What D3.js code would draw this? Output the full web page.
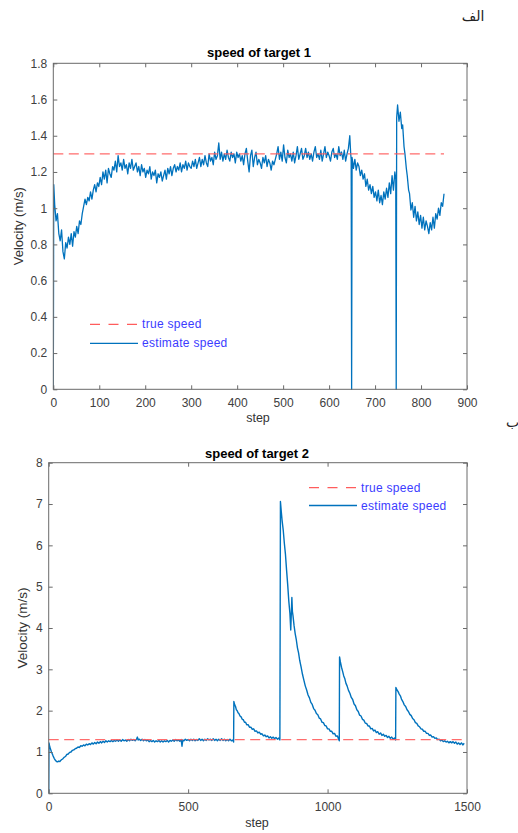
<!DOCTYPE html>
<html>
<head>
<meta charset="utf-8">
<script src="https://cdn.jsdelivr.net/npm/d3@7"></script>
<style>
  html, body { margin: 0; padding: 0; background: #fff; }
  svg { display: block; }
</style>
</head>
<body>
<svg id="fig" width="518" height="833"></svg>
<script>
// Reference (true) speed of both targets, m/s
const trueSpeed = 1.3;
const trueSpan1 = [0, 850];
const trueSpan2 = [0, 1490];

// Estimated speed of target 1: [step, m/s]
const target1 = [
  [0,0],[1,1.13],[3,1.02],[6,0.93],[9,0.97],[12,0.86],[15,0.82],[18,0.88],[21,0.76],[24,0.72],
  [27,0.81],[30,0.78],[33,0.84],[36,0.80],[39,0.86],[42,0.79],[45,0.87],[48,0.84],[51,0.90],[54,0.86],
  [57,0.93],[60,0.91],[63,0.97],[66,1.01],[69,1.05],[72,1.02],[75,1.06],[78,1.04],[81,1.09],[84,1.05],
  [87,1.10],[90,1.13],[93,1.09],[96,1.14],[99,1.12],[102,1.17],[105,1.13],[108,1.20],[111,1.16],[114,1.21],
  [117,1.14],[120,1.22],[123,1.19],[126,1.17],[129,1.23],[132,1.21],[135,1.26],[138,1.20],[141,1.29],[144,1.23],
  [147,1.25],[150,1.21],[153,1.27],[156,1.22],[159,1.24],[162,1.19],[165,1.25],[168,1.22],[171,1.27],[174,1.21],
  [177,1.23],[180,1.25],[183,1.20],[186,1.23],[189,1.18],[192,1.24],[195,1.20],[198,1.22],[201,1.17],[204,1.21],
  [207,1.19],[210,1.23],[213,1.16],[216,1.20],[219,1.18],[222,1.21],[225,1.14],[228,1.19],[231,1.17],[234,1.20],
  [237,1.15],[240,1.18],[243,1.21],[246,1.16],[249,1.22],[252,1.19],[255,1.23],[258,1.18],[261,1.22],[264,1.24],
  [267,1.20],[270,1.23],[273,1.21],[276,1.25],[279,1.20],[282,1.24],[285,1.22],[288,1.26],[291,1.21],[294,1.25],
  [297,1.23],[300,1.22],[303,1.26],[306,1.23],[309,1.27],[312,1.22],[315,1.25],[318,1.28],[321,1.23],[324,1.27],
  [327,1.24],[330,1.29],[333,1.25],[336,1.23],[339,1.30],[342,1.26],[345,1.28],[348,1.24],[351,1.31],[354,1.27],
  [357,1.29],[360,1.36],[363,1.27],[366,1.31],[369,1.26],[372,1.30],[375,1.27],[378,1.32],[381,1.28],[384,1.26],
  [387,1.31],[390,1.28],[393,1.30],[396,1.25],[399,1.31],[402,1.28],[405,1.30],[408,1.26],[411,1.29],[414,1.24],
  [417,1.30],[420,1.33],[423,1.26],[426,1.20],[429,1.29],[432,1.32],[435,1.23],[438,1.28],[441,1.31],[444,1.24],
  [447,1.27],[450,1.25],[453,1.22],[456,1.28],[459,1.25],[462,1.29],[465,1.23],[468,1.27],[471,1.25],[474,1.21],
  [477,1.26],[480,1.24],[483,1.27],[486,1.30],[489,1.34],[492,1.27],[495,1.31],[498,1.26],[501,1.35],[504,1.28],
  [507,1.25],[510,1.32],[513,1.28],[516,1.30],[519,1.26],[522,1.31],[525,1.25],[528,1.29],[531,1.34],[534,1.27],
  [537,1.30],[540,1.33],[543,1.27],[546,1.29],[549,1.33],[552,1.28],[555,1.31],[558,1.27],[561,1.30],[564,1.26],
  [567,1.31],[570,1.34],[573,1.28],[576,1.30],[579,1.27],[582,1.32],[585,1.26],[588,1.30],[591,1.34],[594,1.28],
  [597,1.31],[600,1.29],[603,1.26],[606,1.31],[609,1.33],[612,1.28],[615,1.30],[618,1.27],[621,1.34],[624,1.29],
  [627,1.31],[630,1.27],[633,1.32],[636,1.26],[639,1.30],[642,1.33],[645,1.40],[647,1.30],[648,1.27],[649,0],
  [650,1.28],[653,1.22],[656,1.27],[659,1.21],[662,1.25],[665,1.23],[668,1.18],[671,1.21],[674,1.16],[677,1.19],
  [680,1.12],[683,1.16],[686,1.10],[689,1.13],[692,1.08],[695,1.12],[698,1.06],[701,1.09],[704,1.04],[707,1.10],
  [710,1.03],[713,1.07],[716,1.02],[719,1.09],[722,1.05],[725,1.11],[728,1.06],[731,1.14],[734,1.08],[737,1.18],
  [740,1.10],[743,1.20],[745,1.16],[746,0],[747,1.50],[749,1.57],[752,1.48],[755,1.53],[758,1.44],[760,1.46],
  [763,1.34],[765,1.30],[768,1.22],[770,1.18],[773,1.10],[775,1.08],[778,0.99],[781,1.03],[784,0.95],[787,1.01],
  [790,0.93],[793,0.98],[796,0.91],[799,0.96],[802,0.89],[805,0.95],[808,0.88],[811,0.93],[814,0.90],[817,0.86],
  [820,0.92],[823,0.88],[826,0.95],[829,0.89],[832,0.97],[835,0.94],[838,1.00],[841,0.96],[844,1.03],[847,1.01],
  [850,1.08]
];

// Estimated speed of target 2: [step, m/s]
const target2 = [
  [0,0],[1,1.22],[4,1.12],[7,1.06],[10,1.00],[13,0.95],[16,0.90],[20,0.84],[24,0.80],[28,0.77],
  [32,0.76],[36,0.78],[40,0.77],[45,0.81],[50,0.83],[55,0.87],[60,0.89],[65,0.94],[70,0.95],[75,0.99],
  [80,1.00],[85,1.04],[90,1.05],[95,1.08],[100,1.09],[105,1.12],[110,1.11],[115,1.15],[120,1.14],[125,1.17],
  [130,1.15],[135,1.19],[140,1.17],[145,1.20],[150,1.18],[155,1.22],[160,1.19],[165,1.23],[170,1.20],[175,1.24],
  [180,1.21],[185,1.25],[190,1.22],[195,1.26],[200,1.23],[205,1.27],[210,1.24],[215,1.27],[220,1.25],[225,1.28],
  [230,1.25],[235,1.28],[240,1.26],[245,1.29],[250,1.26],[255,1.29],[260,1.26],[265,1.30],[270,1.27],[275,1.29],
  [280,1.26],[285,1.30],[290,1.27],[295,1.31],[300,1.28],[305,1.30],[310,1.27],[315,1.31],[318,1.36],[321,1.29],
  [325,1.31],[330,1.28],[335,1.31],[340,1.27],[345,1.30],[350,1.27],[355,1.29],[360,1.25],[365,1.28],[370,1.25],
  [375,1.28],[380,1.24],[385,1.27],[390,1.25],[395,1.28],[400,1.24],[405,1.27],[410,1.24],[415,1.27],[420,1.25],
  [425,1.28],[430,1.24],[435,1.28],[440,1.26],[445,1.29],[450,1.26],[455,1.30],[460,1.27],[465,1.29],[470,1.26],
  [475,1.30],[478,1.14],[481,1.29],[485,1.27],[490,1.31],[495,1.28],[500,1.30],[505,1.27],[510,1.31],[515,1.28],
  [520,1.31],[525,1.27],[530,1.30],[535,1.28],[540,1.32],[545,1.28],[550,1.31],[555,1.27],[560,1.31],[565,1.28],
  [570,1.32],[575,1.29],[580,1.31],[585,1.28],[590,1.32],[595,1.28],[600,1.31],[605,1.27],[610,1.31],[615,1.28],
  [620,1.32],[625,1.28],[630,1.31],[635,1.27],[640,1.30],[645,1.27],[650,1.31],[655,1.27],[660,1.29],[663,1.24],
  [664,2.22],[667,2.14],[670,2.10],[673,2.02],[676,2.00],[679,1.95],[682,1.93],[686,1.87],[690,1.85],[694,1.79],
  [698,1.78],[702,1.72],[706,1.72],[710,1.66],[715,1.66],[720,1.60],[725,1.60],[730,1.55],[735,1.56],[740,1.50],
  [745,1.51],[750,1.46],[755,1.48],[760,1.43],[765,1.44],[770,1.39],[775,1.41],[780,1.37],[785,1.39],[790,1.34],
  [795,1.37],[800,1.33],[805,1.36],[810,1.32],[815,1.35],[820,1.31],[825,1.34],[829,1.29],[831,7.06],[834,6.82],
  [837,6.60],[841,6.37],[845,6.05],[849,5.78],[853,5.40],[857,5.05],[861,4.65],[865,4.35],[868,3.95],[870,4.35],
  [872,4.74],[874,4.40],[876,4.30],[880,4.05],[884,3.86],[888,3.71],[892,3.52],[896,3.40],[900,3.22],[905,3.06],
  [910,2.88],[915,2.74],[920,2.60],[925,2.50],[930,2.38],[935,2.31],[940,2.20],[945,2.15],[950,2.05],[955,2.01],
  [960,1.93],[965,1.90],[970,1.82],[975,1.80],[980,1.72],[985,1.71],[990,1.64],[995,1.63],[1000,1.56],[1005,1.56],
  [1010,1.50],[1015,1.50],[1020,1.44],[1025,1.45],[1030,1.38],[1035,1.39],[1039,1.32],[1042,1.27],[1043,3.30],[1046,3.18],
  [1050,3.05],[1054,2.95],[1058,2.84],[1062,2.77],[1066,2.66],[1070,2.60],[1075,2.49],[1080,2.42],[1085,2.32],[1090,2.27],
  [1095,2.16],[1100,2.12],[1105,2.02],[1110,1.98],[1115,1.89],[1120,1.87],[1125,1.79],[1130,1.77],[1135,1.70],[1140,1.69],
  [1145,1.63],[1150,1.63],[1155,1.56],[1160,1.57],[1165,1.51],[1170,1.53],[1175,1.47],[1180,1.49],[1185,1.43],[1190,1.46],
  [1195,1.40],[1200,1.43],[1205,1.38],[1210,1.40],[1215,1.35],[1220,1.38],[1225,1.33],[1230,1.36],[1235,1.31],[1240,1.34],
  [1244,1.29],[1245,2.56],[1249,2.50],[1253,2.46],[1257,2.40],[1261,2.36],[1265,2.28],[1270,2.22],[1275,2.14],[1280,2.10],
  [1285,2.02],[1290,1.98],[1295,1.91],[1300,1.88],[1305,1.81],[1310,1.78],[1315,1.71],[1320,1.69],[1325,1.63],[1330,1.61],
  [1335,1.56],[1340,1.55],[1345,1.50],[1350,1.50],[1355,1.45],[1360,1.45],[1365,1.40],[1370,1.41],[1375,1.36],[1380,1.37],
  [1385,1.33],[1390,1.34],[1395,1.30],[1400,1.31],[1405,1.27],[1410,1.29],[1415,1.25],[1420,1.27],[1425,1.24],[1430,1.26],
  [1435,1.22],[1440,1.25],[1445,1.22],[1450,1.25],[1455,1.21],[1460,1.24],[1465,1.19],[1470,1.22],[1475,1.18],[1480,1.22],
  [1485,1.17],[1490,1.21]
];

// Axis ticks
const xTicks1 = [0, 100, 200, 300, 400, 500, 600, 700, 800, 900];
const yTicks1 = [0, 0.2, 0.4, 0.6, 0.8, 1, 1.2, 1.4, 1.6, 1.8];
const xTicks2 = [0, 500, 1000, 1500];
const yTicks2 = [0, 1, 2, 3, 4, 5, 6, 7, 8];

// Text
const titles = ["speed of target 1", "speed of target 2"];
const panelMarks = ["الف", "ب"];
const xLabel = "step";
const yLabel = "Velocity (m/s)";
const legendLabels = ["true speed", "estimate speed"];

const FONT = "'Liberation Sans', Arial, Helvetica, sans-serif";
const BLUE = "#0072BD";
const RED = "#ff5c5c";
const AXIS = "#6a6a6a";
const TICKTXT = "#404040";

const svg = d3.select("#fig");

function drawPanel(o) {
  const g = svg.append("g");
  const x = d3.scaleLinear().domain(o.xDomain).range([o.left, o.right]);
  const y = d3.scaleLinear().domain(o.yDomain).range([o.bottom, o.top]);

  const clipId = "clip" + o.id;
  svg.append("clipPath").attr("id", clipId)
    .append("rect")
    .attr("x", o.left).attr("y", o.top - 1)
    .attr("width", o.right - o.left).attr("height", o.bottom - o.top + 2);

  // estimated speed
  const line = d3.line().x(d => x(d[0])).y(d => y(d[1]));
  g.append("path")
    .datum(o.data)
    .attr("clip-path", `url(#${clipId})`)
    .attr("d", line)
    .attr("fill", "none")
    .attr("stroke", BLUE)
    .attr("stroke-width", o.lineWidth)
    .attr("stroke-linejoin", "round");

  // true speed, dashed, drawn over the estimate
  g.append("line")
    .attr("x1", x(o.trueSpan[0])).attr("x2", x(o.trueSpan[1]))
    .attr("y1", y(trueSpeed)).attr("y2", y(trueSpeed))
    .attr("stroke", RED).attr("stroke-width", 1.3)
    .attr("stroke-opacity", 0.9)
    .attr("stroke-dasharray", "10,5.5");

  // axes: box with inward ticks on all four sides
  const fmt = d => String(d);
  const bottomAxis = d3.axisBottom(x).tickValues(o.xTicks).tickFormat(fmt)
    .tickSizeInner(-4).tickSizeOuter(0).tickPadding(o.xPad);
  const leftAxis = d3.axisLeft(y).tickValues(o.yTicks).tickFormat(fmt)
    .tickSizeInner(-4).tickSizeOuter(0).tickPadding(6);
  const topAxis = d3.axisTop(x).tickValues(o.xTicks).tickFormat("")
    .tickSizeInner(-4).tickSizeOuter(0);
  const rightAxis = d3.axisRight(y).tickValues(o.yTicks).tickFormat("")
    .tickSizeInner(-4).tickSizeOuter(0);

  const axes = [
    g.append("g").attr("transform", `translate(0,${o.bottom})`).call(bottomAxis),
    g.append("g").attr("transform", `translate(${o.left},0)`).call(leftAxis),
    g.append("g").attr("transform", `translate(0,${o.top})`).call(topAxis),
    g.append("g").attr("transform", `translate(${o.right},0)`).call(rightAxis)
  ];
  axes.forEach(a => {
    a.select(".domain").remove();
    a.selectAll(".tick line").attr("stroke", AXIS).attr("stroke-width", 1);
    a.selectAll(".tick text")
      .attr("fill", TICKTXT)
      .style("font-family", FONT)
      .style("font-size", "12px");
  });

  g.append("rect")
    .attr("x", o.left).attr("y", o.top)
    .attr("width", o.right - o.left).attr("height", o.bottom - o.top)
    .attr("fill", "none").attr("stroke", AXIS).attr("stroke-width", 1);

  // title
  g.append("text")
    .attr("x", o.titleX).attr("y", o.titleY)
    .attr("text-anchor", "middle")
    .style("font-family", FONT).style("font-size", "13px").style("font-weight", "bold")
    .attr("fill", "#000")
    .text(o.title);

  // axis labels
  g.append("text")
    .attr("x", o.xLabelX).attr("y", o.xLabelY)
    .attr("text-anchor", "middle")
    .style("font-family", FONT).style("font-size", "12.5px")
    .attr("fill", "#333")
    .text(xLabel);

  g.append("text")
    .attr("transform", `translate(${o.yLabelX},${(o.top + o.bottom) / 2}) rotate(-90)`)
    .attr("text-anchor", "middle")
    .style("font-family", FONT).style("font-size", o.yLabelSize)
    .attr("fill", "#333")
    .text(yLabel);

  // legend (no frame)
  const lg = g.append("g");
  const rows = [
    { label: legendLabels[0], dash: "10,8.5", color: RED },
    { label: legendLabels[1], dash: null, color: BLUE }
  ];
  rows.forEach((r, i) => {
    const yy = o.legY + i * o.legGap;
    lg.append("line")
      .attr("x1", o.legX).attr("x2", o.legX + 48)
      .attr("y1", yy).attr("y2", yy)
      .attr("stroke", r.color).attr("stroke-width", 1.3)
      .attr("stroke-dasharray", r.dash);
    lg.append("text")
      .attr("x", o.legX + 52).attr("y", yy + 4)
      .style("font-family", FONT).style("font-size", "12px")
      .style("letter-spacing", "0.3px")
      .attr("fill", "#3b3bff")
      .text(r.label);
  });
}

drawPanel({
  id: 1, data: target1, trueSpan: trueSpan1,
  xDomain: [0, 900], yDomain: [0, 1.8],
  xTicks: xTicks1, yTicks: yTicks1,
  left: 53.3, right: 467, top: 63.3, bottom: 389.3,
  xPad: 9.5, lineWidth: 1.3,
  title: titles[0], titleX: 259, titleY: 56.5,
  xLabelX: 258, xLabelY: 422,
  yLabelX: 23, yLabelSize: "13px",
  legX: 90, legY: 324.3, legGap: 19
});

drawPanel({
  id: 2, data: target2, trueSpan: trueSpan2,
  xDomain: [0, 1500], yDomain: [0, 8],
  xTicks: xTicks2, yTicks: yTicks2,
  left: 48.7, right: 467, top: 462.7, bottom: 793.3,
  xPad: 9, lineWidth: 1.4,
  title: titles[1], titleX: 257, titleY: 458,
  xLabelX: 257, xLabelY: 827,
  yLabelX: 27, yLabelSize: "13.5px",
  legX: 309, legY: 487.7, legGap: 17.8
});

// panel marks
svg.append("text")
  .attr("x", 473).attr("y", 21)
  .attr("text-anchor", "middle")
  .style("font-family", "'DejaVu Sans', 'Noto Sans', sans-serif").style("font-size", "14px")
  .attr("fill", "#222")
  .text(panelMarks[0]);
svg.append("text")
  .attr("x", 506).attr("y", 427)
  .style("font-family", "'DejaVu Sans', 'Noto Sans', sans-serif").style("font-size", "14px")
  .attr("fill", "#222")
  .text(panelMarks[1]);
</script>
</body>
</html>
